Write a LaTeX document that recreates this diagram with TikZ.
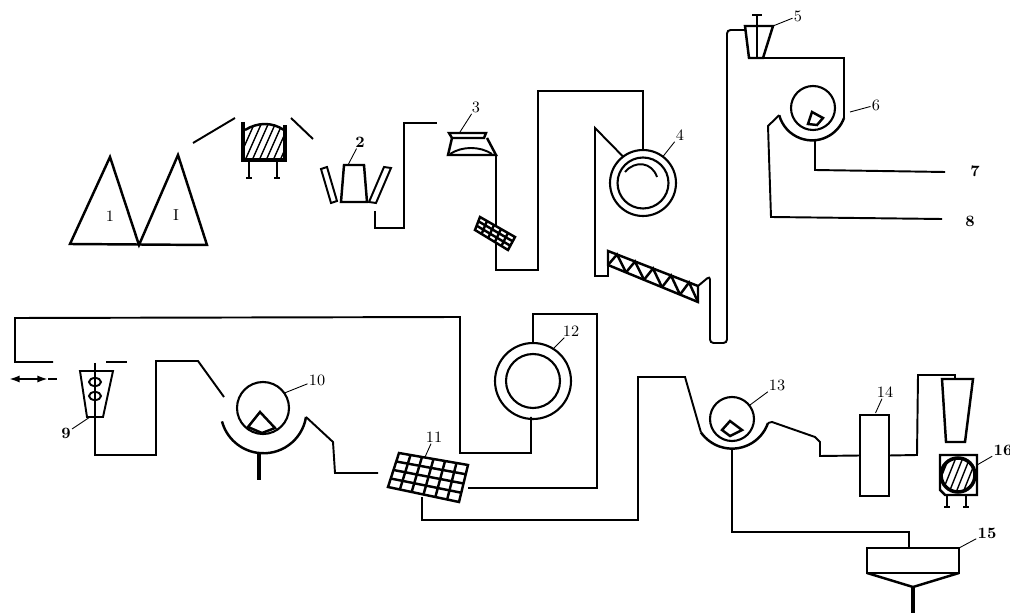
\documentclass[tikz,border=0pt]{standalone}
\usepackage{xcolor}
\usepackage{tikz}
\usetikzlibrary{calc,arrows.meta}
\tikzset{
  pipe/.style={line width=1.1pt},
  wall/.style={line width=1.4pt},
  heavy/.style={line width=2pt},
  thin lead/.style={line width=0.5pt},
  hatch/.style={line width=0.8pt},
  num/.style={inner sep=0.6pt,font=\small},
  boldnum/.style={inner sep=0.6pt,font=\small\bfseries},
  drum/.style={circle,draw,line width=1.2pt,inner sep=0pt,outer sep=0pt},
  tank/.style={rectangle,draw,line width=1.6pt,inner sep=0pt,outer sep=0pt}
}

\begin{document}
\begin{tikzpicture}[x=0.02cm,y=-0.02cm]
  \useasboundingbox (0,0) rectangle (1010,614);

  % Piles
  \coordinate (pileleft) at (70,244);
  \coordinate (pilemid) at (139,245);
  \coordinate (pileright) at (207,245);
  \draw[wall] (pileleft) -- (110,157) -- (pilemid) -- (178,155) -- (pileright) -- cycle;
  \node[num] (numone) at (110,216) {1};
  \node[num] (numonebis) at (176,215) {I};

  % Hatched vessel
  \begin{scope}
    \clip (245,160) -- (245,130) .. controls (258,122) and (272,122) .. (284,130) -- (284,160) -- cycle;
    \foreach \i in {0,...,10} {
      \draw[hatch] ({222+7*\i},165) -- ++(20,-45);
    }
  \end{scope}
  \draw[heavy] (243,122) -- (243,160) -- (285,160) -- (285,125);
  \draw[wall] (245,130) .. controls (258,122) and (272,122) .. (284,130);
  \foreach \x in {249,277} {
    \draw[pipe] (\x,160) -- (\x,178);
    \draw[wall] ({\x-3},178) -- ({\x+3},178);
  }
  \coordinate (feedin) at (193,143);
  \coordinate (feedout) at (235,118);
  \coordinate (dropin) at (291,118);
  \coordinate (dropout) at (313,139);
  \draw[pipe] (feedin) -- (feedout);
  \draw[pipe] (dropin) -- (dropout);

  % Item 2
  \coordinate (hoptwo) at (348,165);
  \draw[wall] (344,165) -- (364,165) -- (367,202) -- (341,202) -- cycle;
  \draw[pipe] (321,169) -- (327,167) -- (337,201) -- (331,203) -- cycle;
  \draw[pipe] (384,167) -- (391,168) -- (376,203) -- (369,202) -- cycle;
  \node[boldnum] (numtwo) at (360,142) {2};
  \draw[thin lead] (numtwo) -- (hoptwo);
  \coordinate (twoout) at (375,211);
  \coordinate (twoend) at (437,123);
  \draw[pipe] (twoout) -- (375,228) -- (404,228) -- (404,123) -- (twoend);

  % Item 3
  \coordinate (hopthree) at (460,132);
  \coordinate (threeout) at (496,155);
  \draw[wall] (449,133) -- (486,133) -- (484,138) -- (452,138) -- cycle;
  \draw[wall] (452,138) -- (448,155) -- (threeout) -- (487,138);
  \draw[pipe] (450,154) .. controls (462,146) and (480,146) .. (492,154);
  \node[num] (numthree) at (476,107) {3};
  \draw[thin lead] (numthree) -- (hopthree);

  % Small screen
  \coordinate (smalla) at (480,217);
  \coordinate (smallb) at (515,237);
  \coordinate (smallc) at (508,250);
  \coordinate (smalld) at (475,230);

  % Ring 4
  \node[drum,minimum size=1.32cm] (ringfour) at (643,183) {};
  \node[drum,minimum size=1.02cm] (ringfourin) at (ringfour) {};
  \draw[pipe] (625,172) .. controls (635,160) and (652,162) .. (657,177);
  \node[num] (numfour) at (680,135) {4};
  \draw[thin lead] (numfour) -- (ringfour.53);
  \draw[pipe] (threeout) -- (496,270) -- (538,270) -- (538,91) -- (643,91) -- (ringfour.north);

  \draw[wall,fill=white] (smalla) -- (smallb) -- (smallc) -- (smalld) -- cycle;
  \foreach \t in {0.2,0.4,0.6,0.8} {
    \draw[wall] ($(smalla)!\t!(smallb)$) -- ($(smalld)!\t!(smallc)$);
  }
  \foreach \t in {0.33,0.67} {
    \draw[wall] ($(smalla)!\t!(smalld)$) -- ($(smallb)!\t!(smallc)$);
  }

  % Screw
  \coordinate (screwa) at (608,251);
  \coordinate (screwb) at (698,286);
  \coordinate (screwc) at (698,302);
  \coordinate (screwd) at (608,265);
  \draw[wall] (screwa) -- (screwb) -- (screwc) -- (screwd) -- cycle;
  \foreach \t in {0,0.2,0.4,0.6,0.8} {
    \draw[wall] ($(screwd)!\t!(screwc)$) -- ($(screwa)!\t+0.1!(screwb)$) -- ($(screwd)!\t+0.2!(screwc)$);
  }
  \draw[pipe] (ringfour.127) -- (595,128) -- (595,276) -- (608,276) -- (screwa);
  \draw[pipe,rounded corners=2pt] (screwb) -- (710,276) -- (710,343) -- (727,343) -- (727,30) -- (745,30);

  % Item 5
  \coordinate (funnelfive) at (773,26);
  \coordinate (funnelout) at (749,58);
  \draw[wall] (745,26) -- (funnelfive) -- (763,58) -- (funnelout) -- cycle;
  \draw[wall] (757,15) -- (757,58);
  \draw[pipe] (752,15) -- (762,15);
  \node[num] (numfive) at (798,16) {5};
  \draw[thin lead] (numfive) -- (funnelfive);

  % Item 6
  \node[drum,minimum size=0.88cm] (drumsix) at (813,108) {};
  \draw[wall] (812,112) -- (823,118) -- (817,125) -- (808,124) -- cycle;
  \coordinate (troughsixr) at (844,118);
  \draw[pipe] (funnelout) -- (844,58) -- (troughsixr);
  \draw[wall] (troughsixr) arc[start angle=20,end angle=165,radius=34] coordinate (troughsixl);
  \coordinate (sixmark) at (850,112);
  \node[num] (numsix) at (876,105) {6};
  \draw[thin lead] (numsix) -- (sixmark);
  \coordinate (outseven) at (945,172);
  \coordinate (outeight) at (942,219);
  \draw[pipe] (815,140) -- (815,170) -- (outseven);
  \draw[pipe] (troughsixl) -- (768,126) -- (771,217) -- (outeight);
  \node[boldnum] (numseven) at (975,171) {7};
  \node[boldnum] (numeight) at (970,221) {8};

  % Item 9
  \coordinate (bagnine) at (90,417);
  \draw[pipe] (80,371) -- (113,371) -- (103,417) -- (87,417) -- cycle;
  \draw[pipe] (95,363) -- (95,417);
  \foreach \y in {382,396} {
    \draw[pipe] (95,\y) ellipse [x radius=6,y radius=4];
  }
  \node[boldnum] (numnine) at (66,433) {9};
  \draw[thin lead] (numnine) -- (bagnine);
  \coordinate (returnend) at (53,362);
  \coordinate (returnstub) at (106,362);
  \coordinate (stubend) at (127,362);
  \draw[pipe] (531,417) -- (531,453) -- (460,453) -- (460,317) -- (15,318) -- (15,362) -- (returnend);
  \draw[pipe] (returnstub) -- (stubend);
  \coordinate (flowleft) at (9,379);
  \coordinate (flowmid) at (48,379);
  \coordinate (flowright) at (57,379);
  \draw[pipe,{Latex[length=6pt,width=4pt]}-{Latex[length=6pt,width=4pt]}] (flowleft) -- (flowmid);
  \draw[pipe] (flowmid) -- (flowright);

  % Drum 10
  \node[drum,minimum size=1.04cm] (drumten) at (263,408) {};
  \draw[wall] (260,412) -- (275,428) -- (262,433) -- (248,427) -- cycle;
  \coordinate (troughtenr) at (306,417);
  \draw[wall] (troughtenr) arc[start angle=9,end angle=165,radius=43] coordinate (troughtenl);
  \node[num] (numten) at (317,380) {10};
  \draw[thin lead] (numten) -- (drumten.35);
  \coordinate (drainten) at (259,480);
  \draw[heavy] (259,452) -- (drainten);
  \draw[pipe] (95,417) -- (95,455) -- (156,455) -- (156,361) -- (198,361) -- (224,397);
  \coordinate (screenin) at (378,473);
  \draw[pipe] (troughtenr) -- (333,442) -- (335,473) -- (screenin);

  % Screen 11
  \coordinate (gridnw) at (399,453);
  \coordinate (gridne) at (468,465);
  \coordinate (gridse) at (459,502);
  \coordinate (gridsw) at (388,487);
  \coordinate (gridmark) at (425,457);
  \draw[wall] (gridnw) -- (gridne) -- (gridse) -- (gridsw) -- cycle;
  \foreach \t in {0.167,0.333,0.5,0.667,0.833} {
    \draw[wall] ($(gridnw)!\t!(gridne)$) -- ($(gridsw)!\t!(gridse)$);
  }
  \foreach \t in {0.25,0.5,0.75} {
    \draw[wall] ($(gridnw)!\t!(gridsw)$) -- ($(gridne)!\t!(gridse)$);
  }
  \node[num] (numeleven) at (434,437) {11};
  \draw[thin lead] (numeleven) -- (gridmark);

  % Ring 12
  \node[drum,minimum size=1.52cm] (ringtwelve) at (533,381) {};
  \node[drum,minimum size=1.08cm] (ringtwelvein) at (ringtwelve) {};
  \node[num] (numtwelve) at (571,331) {12};
  \draw[thin lead] (numtwelve) -- (ringtwelve.58);
  \coordinate (screenback) at (468,488);
  \draw[pipe] (ringtwelve.north) -- (533,314) -- (597,314) -- (597,488) -- (screenback);

  % Drum 13
  \node[drum,minimum size=0.88cm] (drumthirteen) at (732,419) {};
  \draw[wall] (730,421) -- (742,430) -- (730,436) -- (722,430) -- cycle;
  \coordinate (troughr) at (768,423);
  \coordinate (screenout) at (422,497);
  \draw[wall] (troughr) arc[start angle=19,end angle=145,radius=38] coordinate (troughl);
  \draw[pipe] (screenout) -- (422,520) -- (638,520) -- (638,377) -- (685,377) -- (troughl);
  \node[num] (numthirteen) at (777,385) {13};
  \draw[thin lead] (numthirteen) -- (drumthirteen.38);

  % Item 14
  \node[tank,minimum width=0.58cm,minimum height=1.62cm] (tankfourteen) at (874.5,455.5) {};
  \node[num] (numfourteen) at (885,392) {14};
  \draw[thin lead] (numfourteen) -- ($(tankfourteen.north)+(1,-2)$);
  \draw[pipe] (troughr) -- (772,422) -- (815,437) -- (820,442) -- (820,456) -- (tankfourteen.west);

  % Funnel and filter 16
  \coordinate (funneltop) at (955,379);
  \draw[wall] (942,379) -- (973,379) -- (965,442) -- (946,442) -- cycle;
  \draw[pipe] (tankfourteen.east) -- (917,455) -- (918,375) -- (955,375) -- (funneltop);
  \begin{scope}
    \clip (958,475) circle [radius=17];
    \foreach \i in {0,...,8} {
      \draw[hatch] ({925+7*\i},500) -- ++(20,-50);
    }
  \end{scope}
  \draw[heavy] (958,475) circle [radius=17];
  \coordinate (boxsixteen) at (977,465);
  \draw[wall] (940,455) -- (977,455) -- (977,495) -- (945,495) -- (940,490) -- cycle;
  \foreach \x in {947,966} {
    \draw[pipe] (\x,495) -- (\x,507);
    \draw[pipe] ({\x-3},507) -- ({\x+3},507);
  }
  \node[boldnum] (numsixteen) at (1003,450) {16};
  \draw[thin lead] (numsixteen) -- (boxsixteen);

  % Thickener 15
  \node[tank,minimum width=1.84cm,minimum height=0.5cm] (tankfifteen) at (913,560.5) {};
  \coordinate (conetip) at (913,587);
  \coordinate (coneout) at (913,613);
  \draw[wall] (tankfifteen.south west) -- (conetip) -- (tankfifteen.south east);
  \draw[heavy] (conetip) -- (coneout);
  \draw[pipe] (732,448) -- (732,532) -- (909,532) -- (909,548);
  \node[boldnum] (numfifteen) at (987,533) {15};
  \draw[thin lead] (numfifteen) -- (tankfifteen.north east);
\end{tikzpicture}
\end{document}
